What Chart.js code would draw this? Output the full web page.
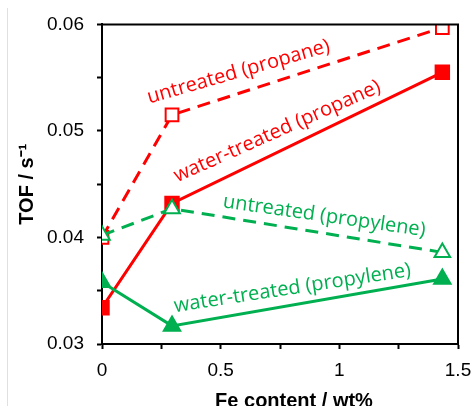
<!DOCTYPE html>
<html>
<head>
<meta charset="utf-8">
<script src="https://cdn.jsdelivr.net/npm/chart.js@4/dist/chart.umd.min.js"></script>
<style>
html,body{margin:0;padding:0;background:#fff;}
#wrap{width:472px;height:406px;position:relative;}
</style>
</head>
<body>
<div id="wrap"><canvas id="c" width="472" height="406"></canvas></div>
<script>
// ---- data ----
const feContent = [0, 0.295, 1.434];
const untreatedPropane = [0.0400, 0.0515, 0.0597];
const waterTreatedPropane = [0.0334, 0.0432, 0.0555];
const untreatedPropylene = [0.0402, 0.0427, 0.0386];
const waterTreatedPropylene = [0.0358, 0.0317, 0.0361];
const xTickLabels = ['0', '0.5', '1', '1.5'];
const yTickLabels = ['0.03', '0.04', '0.05', '0.06'];
const xTitle = 'Fe content / wt%';
const yTitle = 'TOF / s\u207B\u00B9';
// series labels: text, baseline-centre anchor (data units), angle (deg)
const labelTexts = ['untreated (propane)', 'water-treated (propane)', 'untreated (propylene)', 'water-treated (propylene)'];
const labelX = [0.582, 0.748, 0.933, 0.806];
const labelY = [0.05502, 0.04945, 0.04148, 0.03469];
const labelAngle = [-16, -24, 8.2, -8.7];

const RED = '#FF0000';
const GREEN = '#00B050';
const labelColors = [RED, RED, GREEN, GREEN];

function pts(ys){ return feContent.map((x,i)=>({x:x, y:ys[i]})); }

const labelsPlugin = {
  id: 'seriesLabels',
  afterDatasetsDraw(chart){
    const ctx = chart.ctx, xs = chart.scales.x, ys = chart.scales.y;
    ctx.save();
    ctx.font = '20px "Open Sans"';
    ctx.textAlign = 'center';
    ctx.textBaseline = 'alphabetic';
    labelTexts.forEach((t,i)=>{
      ctx.save();
      ctx.translate(xs.getPixelForValue(labelX[i]), ys.getPixelForValue(labelY[i]));
      ctx.rotate(labelAngle[i]*Math.PI/180);
      ctx.fillStyle = labelColors[i];
      ctx.fillText(t, 0, 0);
      ctx.restore();
    });
    ctx.restore();
  }
};

const framePlugin = {
  id: 'frame',
  beforeDraw(chart){
    const ctx = chart.ctx;
    ctx.save();
    ctx.strokeStyle = '#e0e0e0';
    ctx.lineWidth = 1;
    ctx.beginPath();
    ctx.moveTo(7.5, 8);
    ctx.lineTo(7.5, 406);
    ctx.stroke();
    ctx.restore();
  },
  afterDraw(chart){
    const ctx = chart.ctx, a = chart.chartArea;
    ctx.save();
    ctx.strokeStyle = '#000';
    ctx.lineWidth = 2;
    ctx.beginPath();
    ctx.moveTo(a.left, a.top);
    ctx.lineTo(a.right, a.top);
    ctx.lineTo(a.right, a.bottom);
    ctx.stroke();
    // axis titles
    ctx.fillStyle = '#000';
    ctx.font = 'bold 20px "Liberation Sans", Arial, sans-serif';
    ctx.textAlign = 'center';
    ctx.textBaseline = 'alphabetic';
    ctx.fillText(xTitle, (a.left + a.right)/2 + 14, 407);
    ctx.save();
    ctx.translate(33, (a.top + a.bottom)/2);
    ctx.rotate(-Math.PI/2);
    ctx.fillText(yTitle, 0, 0);
    ctx.restore();
    ctx.restore();
  }
};

const common = {fill:false, borderWidth:3, pointBorderWidth:2, pointHoverRadius:9, tension:0};

new Chart(document.getElementById('c'), {
  type: 'line',
  data: {
    datasets: [
      Object.assign({}, common, {label:'untreated (propylene)', data: pts(untreatedPropylene), borderColor: GREEN, borderDash:[13,8],
        pointStyle:'triangle', pointRadius:9, pointBackgroundColor:'#fff', pointBorderColor: GREEN}),
      Object.assign({}, common, {label:'water-treated (propylene)', data: pts(waterTreatedPropylene), borderColor: GREEN,
        pointStyle:'triangle', pointRadius:9.5, pointBackgroundColor: GREEN, pointBorderColor: GREEN}),
      Object.assign({}, common, {label:'untreated (propane)', data: pts(untreatedPropane), borderColor: RED, borderDash:[13,8],
        pointStyle:'rect', pointRadius:9, pointBackgroundColor:'#fff', pointBorderColor: RED}),
      Object.assign({}, common, {label:'water-treated (propane)', data: pts(waterTreatedPropane), borderColor: RED,
        pointStyle:'rect', pointRadius:9.5, pointBackgroundColor: RED, pointBorderColor: RED})
    ]
  },
  options: {
    responsive: false,
    animation: false,
    layout: {padding: {top: 24, right: 14, bottom: 0, left: 0}},
    plugins: {legend: {display:false}, tooltip: {enabled:false}},
    scales: {
      x: {
        type: 'linear', min: 0, max: 1.5,
        afterFit(s){ s.height = 62; s.paddingLeft = 0; s.paddingRight = 0; },
        border: {display:true, color:'#000', width:2},
        grid: {display:true, drawOnChartArea:false, drawTicks:true, tickLength:5, color:'#000', tickWidth:2},
        ticks: {stepSize:0.25, autoSkip:false, maxRotation:0, padding:10, color:'#000',
          font:{family:'"Liberation Sans", Arial, sans-serif', size:19},
          callback(v){ const r = Math.round(v*100); return r % 50 === 0 ? xTickLabels[r/50] : ''; }}
      },
      y: {
        type: 'linear', min: 0.03, max: 0.06,
        afterFit(s){ s.width = 102; },
        border: {display:true, color:'#000', width:2},
        grid: {display:true, drawOnChartArea:false, drawTicks:true, tickLength:5, color:'#000', tickWidth:2},
        ticks: {stepSize:0.005, autoSkip:false, padding:13, color:'#000',
          font:{family:'"Liberation Sans", Arial, sans-serif', size:19},
          callback(v){ const r = Math.round(v*1000); return r % 10 === 0 ? yTickLabels[r/10 - 3] : ''; }}
      }
    }
  },
  plugins: [labelsPlugin, framePlugin]
});
</script>
</body>
</html>
